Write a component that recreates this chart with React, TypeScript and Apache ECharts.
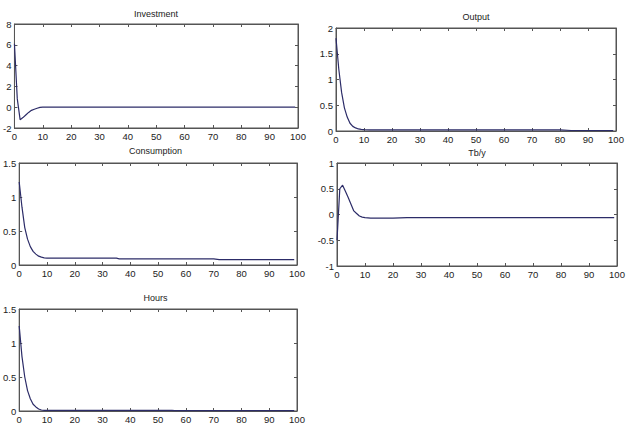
import React, { useEffect, useRef } from "react";
import * as echarts from "echarts";

// Shared horizons (periods) at which each impulse response is read
const periods = [0, 1, 2, 3, 4, 5, 6, 7, 8, 9, 10, 12, 15, 20, 25, 30, 35, 36, 40, 50, 55, 56, 60, 70, 72, 80, 84, 90, 99];

const investment = [6.1, 0.8, -1.2, -1.0, -0.75, -0.5, -0.3, -0.2, -0.1, -0.02, 0, 0, 0, 0, 0, 0, 0, 0, 0, 0, 0, 0, 0, 0, 0, 0, 0, 0, 0];
const output = [1.8, 1.2, 0.75, 0.45, 0.27, 0.15, 0.09, 0.06, 0.04, 0.03, 0.025, 0.02, 0.02, 0.02, 0.02, 0.02, 0.02, 0.02, 0.02, 0.02, 0.02, 0.02, 0.02, 0.02, 0.02, 0.02, 0.01, 0.01, 0.01];
const consumption = [1.22, 0.85, 0.55, 0.38, 0.27, 0.2, 0.16, 0.13, 0.115, 0.105, 0.1, 0.1, 0.1, 0.1, 0.1, 0.1, 0.1, 0.09, 0.09, 0.09, 0.09, 0.09, 0.09, 0.09, 0.08, 0.08, 0.08, 0.08, 0.08];
const tby = [-0.5, 0.5, 0.57, 0.45, 0.33, 0.2, 0.07, 0.02, -0.03, -0.05, -0.06, -0.07, -0.07, -0.07, -0.06, -0.06, -0.06, -0.06, -0.06, -0.06, -0.06, -0.06, -0.06, -0.06, -0.06, -0.06, -0.06, -0.06, -0.06];
const hours = [1.25, 0.8, 0.5, 0.3, 0.18, 0.1, 0.06, 0.03, 0.015, 0.01, 0.01, 0.01, 0.01, 0.01, 0.01, 0.01, 0.01, 0.01, 0.01, 0.01, 0.01, 0.005, 0.005, 0.005, 0.005, 0.005, 0.005, 0.005, 0.005];

const titles = ["Investment", "Output", "Consumption", "Tb/y", "Hours"];
const seriesValues = [investment, output, consumption, tby, hours];
const yMins = [-2, 0, 0, -1, 0];
const yMaxs = [8, 2, 1.5, 1, 1.5];
const yIntervals = [2, 0.5, 0.5, 0.5, 0.5];
const xMin = 0;
const xMax = 100;
const xInterval = 10;

// layout of each panel: [left, top, width, height]
const panels = [
  [14, 24, 284, 104],
  [336, 28, 280, 103],
  [14, 163, 283, 102],
  [337, 163, 280, 103],
  [14, 309, 283, 102],
];
const titleTops = [9, 12, 146, 148, 293];

const FONT = "'Liberation Sans', Arial, Helvetica, sans-serif";
const AXIS_COLOR = "#555";
const TEXT_COLOR = "#222";
const LINE_COLOR = "#2c2c68";

export default function App() {
  const ref = useRef<HTMLDivElement>(null);

  useEffect(() => {
    if (!ref.current) return;
    const chart = echarts.init(ref.current, undefined, { renderer: "svg" });

    const grid: any[] = [];
    const xAxis: any[] = [];
    const yAxis: any[] = [];
    const series: any[] = [];
    const title: any[] = [];

    panels.forEach((p, i) => {
      const [left, top, width, height] = p;
      grid.push({ left, top, width, height, show: true, borderColor: AXIS_COLOR, borderWidth: 1, backgroundColor: "#fff" });
      title.push({
        text: titles[i],
        left: left + width / 2,
        top: titleTops[i],
        textAlign: "center",
        padding: 0,
        textStyle: { fontFamily: FONT, fontSize: 9, fontWeight: "normal", color: TEXT_COLOR },
      });
      const axisLine = { show: true, onZero: false, lineStyle: { color: AXIS_COLOR, width: 1 } };
      const axisTick = { show: true, inside: true, length: 3, lineStyle: { color: AXIS_COLOR } };
      const label = { fontFamily: FONT, fontSize: 9.5, color: TEXT_COLOR };
      xAxis.push({
        type: "value", gridIndex: i, position: "bottom", min: xMin, max: xMax, interval: xInterval,
        axisLine, axisTick, splitLine: { show: false },
        axisLabel: { ...label, margin: 3 },
      });
      xAxis.push({
        type: "value", gridIndex: i, position: "top", min: xMin, max: xMax, interval: xInterval,
        axisLine, axisTick, splitLine: { show: false }, axisLabel: { show: false },
      });
      yAxis.push({
        type: "value", gridIndex: i, position: "left", min: yMins[i], max: yMaxs[i], interval: yIntervals[i],
        axisLine, axisTick, splitLine: { show: false },
        axisLabel: { ...label, margin: 3 },
      });
      yAxis.push({
        type: "value", gridIndex: i, position: "right", min: yMins[i], max: yMaxs[i], interval: yIntervals[i],
        axisLine, axisTick, splitLine: { show: false }, axisLabel: { show: false },
      });
      series.push({
        type: "line",
        name: titles[i],
        xAxisIndex: 2 * i,
        yAxisIndex: 2 * i,
        data: periods.map((x, k) => [x, seriesValues[i][k]]),
        showSymbol: false,
        symbol: "none",
        lineStyle: { color: LINE_COLOR, width: 1.2 },
        clip: true,
      });
    });

    chart.setOption({
      animation: false,
      backgroundColor: "#fff",
      title,
      grid,
      xAxis,
      yAxis,
      series,
    });

    return () => chart.dispose();
  }, []);

  return (
    <div
      ref={ref}
      style={{ position: "fixed", left: 0, top: 0, width: 630, height: 427, background: "#fff" }}
    />
  );
}
